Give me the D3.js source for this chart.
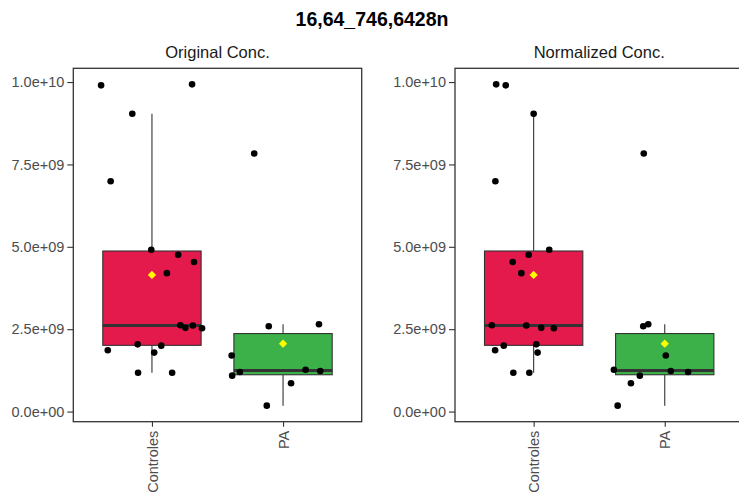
<!DOCTYPE html>
<html>
<head>
<meta charset="utf-8">
<script src="https://cdn.jsdelivr.net/npm/d3@7"></script>
<style>
  body { margin: 0; background: #fff; }
  text { font-family: "Liberation Sans", Arial, sans-serif; }
</style>
</head>
<body>
<div id="chart"></div>
<script>
// dados (valores em unidades brutas)
const groups = ["Controles", "PA"];
const panelTitles = ["Original Conc.", "Normalized Conc."];
const chartTitle = "16,64_746,6428n";

const controlesValues = [9.90e9, 9.93e9, 9.04e9, 6.99e9, 4.91e9, 4.76e9, 4.54e9, 4.20e9, 2.62e9,
  2.54e9, 2.61e9, 2.53e9, 1.86e9, 2.04e9, 2.00e9, 1.79e9, 1.18e9, 1.18e9];
const paValues = [7.83e9, 2.59e9, 2.65e9, 1.70e9, 1.09e9, 1.20e9, 1.27e9, 1.23e9, 0.86e9, 0.18e9];

// jitter horizontal (fração do passo entre categorias), um por painel
const controlesJitter = [
  [-0.388, 0.306, -0.150, -0.315, -0.005, 0.200, 0.321, 0.114, 0.217,
    0.255, 0.312, 0.382, -0.337, -0.109, 0.071, 0.017, -0.106, 0.154],
  [-0.213, -0.286, 0.000, -0.292, 0.119, -0.038, -0.160, -0.094, -0.319,
    0.058, -0.056, 0.154, -0.294, 0.020, -0.228, 0.030, -0.155, -0.033]
];
const paJitter = [
  [-0.220, -0.109, 0.274, -0.392, -0.388, -0.329, 0.172, 0.284, 0.061, -0.124],
  [-0.160, -0.164, -0.126, 0.008, -0.190, 0.178, -0.388, 0.046, -0.258, -0.359]
];

const yTicks = [0, 2.5e9, 5e9, 7.5e9, 1e10];
const fillColors = ["#E31A4B", "#3CB14A"];

const width = 739;
const height = 497;

const svg = d3.select("#chart").append("svg")
  .attr("width", width)
  .attr("height", height);

// título principal
svg.append("text")
  .attr("x", 372)
  .attr("y", 26)
  .attr("text-anchor", "middle")
  .style("font-size", "19.5px")
  .style("font-weight", "bold")
  .attr("fill", "#000")
  .text(chartTitle);

// escala y comum (expansão de 5% como no ggplot)
const allValues = controlesValues.concat(paValues);
const ext = d3.extent(allValues);
const pad = (ext[1] - ext[0]) * 0.05;
const panelTop = 68.3;
const panelBottom = 421.7;
const y = d3.scaleLinear()
  .domain([ext[0] - pad, ext[1] + pad])
  .range([panelBottom, panelTop]);

function fmtSci(v) {
  // 1.0e+10, 7.5e+09 ...
  return d3.format(".1e")(v).replace(/e([+-])(\d)$/, "e$10$2");
}

function boxStats(values) {
  const s = values.slice().sort(d3.ascending);
  const q1 = d3.quantile(s, 0.25);
  const med = d3.quantile(s, 0.5);
  const q3 = d3.quantile(s, 0.75);
  const iqr = q3 - q1;
  const lo = d3.min(s.filter(v => v >= q1 - 1.5 * iqr));
  const hi = d3.max(s.filter(v => v <= q3 + 1.5 * iqr));
  return { q1, med, q3, lo, hi, mean: d3.mean(s) };
}

function drawPanel(i, left) {
  const right = left + 288.4;
  const g = svg.append("g");

  const x = d3.scalePoint()
    .domain(groups)
    .range([left, right])
    .padding(0.6);
  const step = x.step();
  const boxW = step * 0.75;

  // título do painel
  g.append("text")
    .attr("x", (left + right) / 2)
    .attr("y", 58)
    .attr("text-anchor", "middle")
    .style("font-size", "16.5px")
    .attr("fill", "#1a1a1a")
    .text(panelTitles[i]);

  const series = [
    { name: groups[0], values: controlesValues, jitter: controlesJitter[i], fill: fillColors[0] },
    { name: groups[1], values: paValues, jitter: paJitter[i], fill: fillColors[1] }
  ];

  series.forEach(s => {
    const st = boxStats(s.values);
    const cx = x(s.name);

    // bigodes
    g.append("line")
      .attr("x1", cx).attr("x2", cx)
      .attr("y1", y(st.q3)).attr("y2", y(st.hi))
      .attr("stroke", "#333").attr("stroke-width", 1.1);
    g.append("line")
      .attr("x1", cx).attr("x2", cx)
      .attr("y1", y(st.q1)).attr("y2", y(st.lo))
      .attr("stroke", "#333").attr("stroke-width", 1.1);

    // caixa
    g.append("rect")
      .attr("x", cx - boxW / 2)
      .attr("y", y(st.q3))
      .attr("width", boxW)
      .attr("height", y(st.q1) - y(st.q3))
      .attr("fill", s.fill)
      .attr("stroke", "#333")
      .attr("stroke-width", 1.1);

    // mediana
    g.append("line")
      .attr("x1", cx - boxW / 2).attr("x2", cx + boxW / 2)
      .attr("y1", y(st.med)).attr("y2", y(st.med))
      .attr("stroke", "#333").attr("stroke-width", 3);

    // pontos com jitter
    g.selectAll(null)
      .data(s.values.map((v, k) => ({ v, j: s.jitter[k] })))
      .join("circle")
      .attr("cx", d => cx + d.j * step)
      .attr("cy", d => y(d.v))
      .attr("r", 3.3)
      .attr("fill", "#000");

    // média (losango amarelo)
    g.append("path")
      .attr("d", d3.symbol().type(d3.symbolSquare).size(34)())
      .attr("transform", `translate(${cx},${y(st.mean)}) rotate(45)`)
      .attr("fill", "#FFFF00");
  });

  // borda do painel
  g.append("rect")
    .attr("x", left)
    .attr("y", panelTop)
    .attr("width", right - left)
    .attr("height", panelBottom - panelTop)
    .attr("fill", "none")
    .attr("stroke", "#333")
    .attr("stroke-width", 1.3);

  // eixo y
  const yAxis = g.append("g")
    .attr("transform", `translate(${left},0)`)
    .call(d3.axisLeft(y).tickValues(yTicks).tickSize(6).tickPadding(3).tickFormat(fmtSci));
  yAxis.select(".domain").remove();
  yAxis.selectAll(".tick line").attr("stroke", "#333").attr("stroke-width", 1.1);
  yAxis.selectAll(".tick text")
    .attr("fill", "#4d4d4d")
    .style("font-size", "14.5px")
    .style("font-family", "Liberation Sans, Arial, sans-serif");

  // eixo x com rótulos verticais
  const xAxis = g.append("g")
    .attr("transform", `translate(0,${panelBottom})`)
    .call(d3.axisBottom(x).tickSize(5));
  xAxis.select(".domain").remove();
  xAxis.selectAll(".tick line").attr("stroke", "#333").attr("stroke-width", 1.1);
  xAxis.selectAll(".tick text")
    .attr("transform", "rotate(-90)")
    .attr("x", -9)
    .attr("y", 0)
    .attr("dy", "0.35em")
    .attr("text-anchor", "end")
    .attr("fill", "#4d4d4d")
    .style("font-size", "14.5px")
    .style("font-family", "Liberation Sans, Arial, sans-serif");
}

drawPanel(0, 73.3);
drawPanel(1, 455);
</script>
</body>
</html>
